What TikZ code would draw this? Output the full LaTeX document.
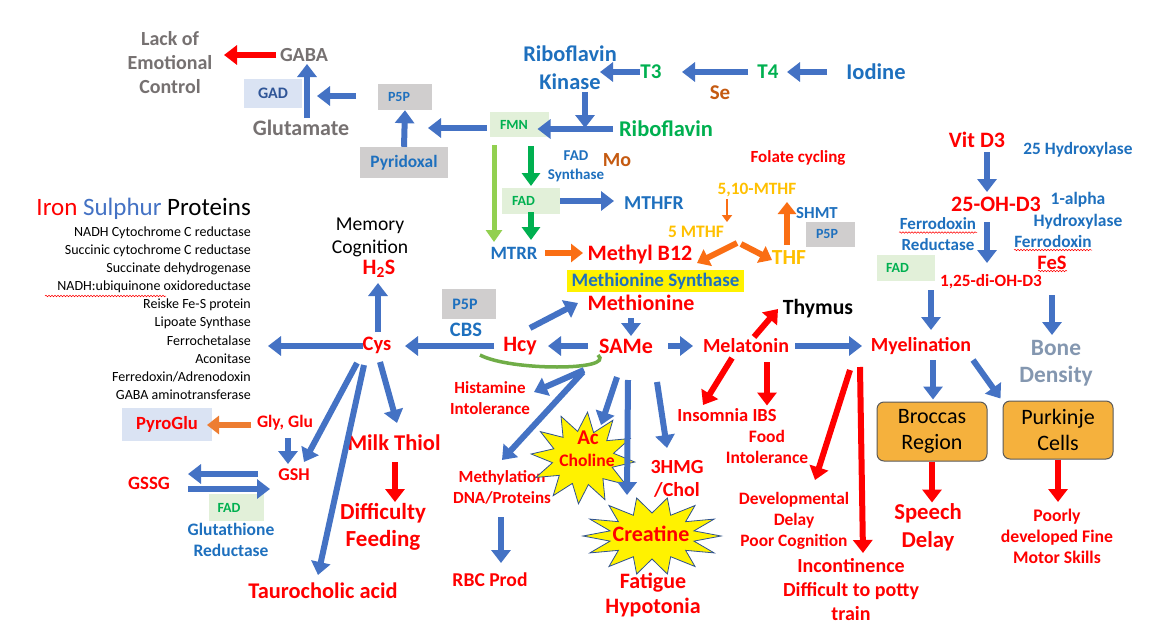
\documentclass[tikz,border=0pt]{standalone}
\usepackage{fontspec}
\setmainfont{Carlito}
\usetikzlibrary{arrows.meta,calc,decorations.pathmorphing}
\newcommand{\fz}[2]{\fontsize{#1}{#2}\selectfont}
\definecolor{ablue}{HTML}{4472C4}
\definecolor{tblue}{RGB}{30,112,190}
\definecolor{dblue}{HTML}{2F5597}
\definecolor{gtxt}{HTML}{00B050}
\definecolor{lgreen}{HTML}{92D050}
\definecolor{arcgreen}{HTML}{70AD47}
\definecolor{bgreen}{HTML}{E2F0D9}
\definecolor{bgray}{HTML}{D0CECE}
\definecolor{bblue}{HTML}{DAE3F3}
\definecolor{brown}{HTML}{C55A11}
\definecolor{gold}{HTML}{FFC000}
\definecolor{forange}{RGB}{250,110,20}
\definecolor{porange}{HTML}{ED7D31}
\definecolor{graytxt}{HTML}{767171}
\definecolor{bonegray}{HTML}{8497B0}
\definecolor{obox}{RGB}{245,177,61}
\definecolor{starline}{HTML}{2F528F}
\definecolor{rtxt}{HTML}{FF0000}
\tikzset{
  tb/.style 2 args={inner sep=0pt,align=center,font=\fz{#1}{#2}\bfseries},
  tr/.style 2 args={inner sep=0pt,align=center,font=\fz{#1}{#2}},
  bx/.style={inner sep=0pt,align=center},
  ba/.style={draw=ablue,line width=6pt,-{Triangle[length=13pt,width=19pt]}},
  ra/.style={draw=red,line width=6pt,-{Triangle[length=13pt,width=19pt]}},
  oa/.style={draw=forange,line width=6pt,-{Triangle[length=12pt,width=18pt]}},
  oas/.style={draw=forange,line width=2.5pt,-{Triangle[length=7pt,width=10pt]}},
  pa/.style={draw=porange,line width=6pt,-{Triangle[length=12pt,width=18pt]}},
  ga/.style={draw=gtxt,line width=5.5pt,-{Triangle[length=13pt,width=18pt]}},
  lga/.style={draw=lgreen,line width=5pt,-{Triangle[length=12pt,width=16pt]}},
  starst/.style={fill=yellow,draw=starline,line width=0.8pt},
  wavy/.style={draw=red,line width=0.5pt,decorate,decoration={snake,amplitude=0.8pt,segment length=3pt}}
}
\begin{document}
\begin{tikzpicture}[x=1pt,y=-1pt]
\fill[white] (0,0) rectangle (1167,626);
\useasboundingbox (0,0) rectangle (1167,626);

% ---------- top left ----------
\node[tb={20}{24},text=graytxt] (lack) at (170,63) {Lack of\\Emotional\\Control};
\node[tb={20}{22},text=graytxt] (gaba) at (304,55) {GABA};
\node[bx,fill=bblue,minimum width=58pt,minimum height=29pt,font=\fz{16}{18}\bfseries,text=dblue] (gad) at (273,93.5) {GAD};
\node[tb={22}{24},text=graytxt] (glut) at (301,128) {Glutamate};
\node[bx,fill=bgray,minimum width=54pt,minimum height=26pt,font=\fz{14}{16}\bfseries,text=tblue] (p5pA) at (405,97) {P5P\hspace*{12pt}};
\node[bx,fill=bgray,minimum width=88pt,minimum height=31pt,font=\fz{17.4}{19}\bfseries,text=tblue] (pyr) at (404,162.5) {Pyridoxal};

% ---------- top middle ----------
\node[tb={22.4}{28},text=tblue] (rk) at (570,68) {Riboflavin\\Kinase};
\node[tb={21}{24},text=gtxt] (t3) at (651,72) {T3};
\node[tb={21}{24},text=gtxt] (t4) at (768,72) {T4};
\node[tb={21}{24},text=brown] (se) at (720,93) {Se};
\node[tb={22.5}{24},text=tblue] (iodine) at (876,72) {Iodine};
\node[tb={22.5}{24},text=gtxt] (ribo) at (666,129) {Riboflavin};
\coordinate (jn) at (585,128);
\node[bx,fill=bgreen,minimum width=59pt,minimum height=25pt,font=\fz{14}{16}\bfseries,text=gtxt] (fmn) at (519.5,124.5) {FMN\hspace*{11pt}};
\node[tb={15}{19},text=tblue] (fadsyn) at (576,166.5) {FAD\\Synthase};
\node[tb={20}{22},text=brown] (mo) at (617,160) {Mo};
\node[bx,fill=bgreen,minimum width=58pt,minimum height=26pt,font=\fz{14}{16}\bfseries,text=gtxt] (fadA) at (531,201) {FAD\hspace*{15pt}};
\node[tb={19.7}{22},text=tblue] (mthfr) at (654,203) {MTHFR};
\node[tb={17}{20},text=rtxt] (folate) at (798,158) {Folate cycling};
\node[tb={17.3}{20},text=gold] (m510) at (757,190) {5,10-MTHF};
\node[tb={17.5}{20},text=gold] (m5) at (696,232) {5 MTHF};
\node[tb={21.5}{24},text=gold] (thf) at (789,258) {THF};
\node[tb={16.8}{19},text=tblue] (shmt) at (817,213) {SHMT};
\node[bx,fill=bgray,minimum width=49pt,minimum height=25pt,font=\fz{14}{16}\bfseries,text=tblue] (p5pB) at (830.5,234.5) {P5P\hspace*{7pt}};
\coordinate (fcyc) at (737,243);
\node[tb={18.8}{21},text=tblue] (mtrr) at (514,253) {MTRR};
\node[tb={22}{26},text=rtxt] (mb12) at (640,255) {Methyl B12};
\node[bx,fill=yellow,minimum width=177pt,minimum height=22pt,font=\fz{19}{21}\bfseries,text=tblue] (msyn) at (655.5,281) {Methionine Synthase};
\node[tb={22}{26},text=rtxt] (meth) at (641,303) {Methionine};
\node[tb={22}{26},text=rtxt] (same) at (626,346) {SAMe};
\node[tb={22}{26},text=rtxt] (hcy) at (520,346) {Hcy};
\node[tb={20.5}{24},text=rtxt] (cys) at (377,345) {Cys};
\node[tb={20.5}{24},text=tblue] (cbs) at (466,330) {CBS};
\node[bx,fill=bgray,minimum width=54pt,minimum height=30pt,font=\fz{16}{18}\bfseries,text=tblue] (p5pC) at (469,304) {P5P\hspace*{8pt}};
\node[tr={19.6}{23},] (memcog) at (370,237) {Memory\\Cognition};
\node[tb={22}{24},text=rtxt] (h2s) at (379,269) {H\textsubscript{2}S};

% ---------- iron sulphur list ----------
\node[tr={25}{28},anchor=east] (iron) at (251,209) {{\color{red}Iron} {\color{ablue}Sulphur} Proteins};
\node[tr={14}{15},anchor=east] (l1) at (251,233) {NADH Cytochrome C reductase};
\node[tr={14}{15},anchor=east] (l2) at (251,251) {Succinic cytochrome C reductase};
\node[tr={14}{15},anchor=east] (l3) at (251,269) {Succinate dehydrogenase};
\node[tr={14}{15},anchor=east] (l4) at (251,287) {NADH:ubiquinone oxidoreductase};
\node[tr={14}{15},anchor=east] (l5) at (251,305) {Reiske Fe-S protein};
\node[tr={14}{15},anchor=east] (l6) at (251,323) {Lipoate Synthase};
\node[tr={14}{15},anchor=east] (l7) at (251,341) {Ferrochetalase};
\node[tr={14}{15},anchor=east] (l8) at (251,359) {Aconitase};
\node[tr={14}{15},anchor=east] (l9) at (251,377) {Ferredoxin/Adrenodoxin};
\node[tr={14}{15},anchor=east] (l10) at (251,395) {GABA aminotransferase};
\draw[wavy] ($(l4.east)+(-206,9)$) -- ($(l4.east)+(-85,9)$);

% ---------- right side ----------
\node[tb={20}{23},text=rtxt] (melat) at (746,346) {Melatonin};
\node[tb={21.7}{24}] (thymus) at (818,309) {Thymus};
\node[tb={20}{23},text=rtxt] (myel) at (921,346) {Myelination};
\node[tb={18.5}{21},text=rtxt] (insom) at (727,415) {Insomnia IBS};
\node[tb={17.5}{21},text=rtxt] (food) at (767,446.5) {Food\\Intolerance};
\node[tb={17.4}{21},text=rtxt] (devel) at (794,521) {Developmental\\Delay\\Poor Cognition};
\node[tb={20}{24},text=rtxt] (incont) at (851,590) {Incontinence\\Difficult to potty\\train};
\node[bx,fill=obox,draw=black!65,line width=1pt,rounded corners=7pt,minimum width=110pt,minimum height=59pt,font=\fz{22}{26}] (broccas) at (932,431.5) {Broccas\\Region};
\node[bx,fill=obox,draw=black!65,line width=1pt,rounded corners=7pt,minimum width=110pt,minimum height=58pt,font=\fz{22}{26}] (purk) at (1058,430) {Purkinje\\Cells};
\node[tb={22.7}{28},text=rtxt] (speech) at (928,527.5) {Speech\\Delay};
\node[tb={17.7}{21},text=rtxt] (poorly) at (1057,536) {Poorly\\developed Fine\\Motor Skills};
\node[tb={23.4}{27},text=bonegray] (bone) at (1056,363.5) {Bone\\Density};
\node[tb={22}{26},text=rtxt] (vitd3) at (977,140) {Vit D3};
\node[tb={22}{26},text=rtxt] (oh25) at (996,204) {25-OH-D3};
\node[tb={17.3}{20},text=tblue] (hyd25) at (1078,150) {25 Hydroxylase};
\node[tb={17.5}{22},text=tblue] (alpha) at (1078,211) {1-alpha\\Hydroxylase};
\node[tb={17.3}{20},text=tblue] (ferroR) at (1053,241) {Ferrodoxin};
\node[tb={20.5}{22},text=rtxt] (fes) at (1052,263) {FeS};
\node[tb={17}{21},text=tblue] (ferrored) at (938,234.5) {Ferrodoxin\\Reductase};
\node[bx,fill=bgreen,minimum width=58pt,minimum height=26pt,font=\fz{14}{16}\bfseries,text=gtxt] (fadB) at (906,268) {FAD\hspace*{17pt}};
\node[tb={17.2}{20},text=rtxt] (di) at (991,282) {1,25-di-OH-D3};
\draw[wavy] ($(ferrored)+(-39,-2)$) -- ($(ferrored)+(39,-2)$);
\draw[wavy] ($(ferroR)+(-39,9)$) -- ($(ferroR)+(39,9)$);
\draw[wavy] ($(fes)+(-14,8)$) -- ($(fes)+(15,8)$);

% ---------- lower middle ----------
\node[tb={17}{21},text=rtxt] (hist) at (490,398.5) {Histamine\\Intolerance};
\node[tb={17}{21},text=rtxt] (methyl) at (502,487.5) {Methylation\\DNA/Proteins};
\node[tb={19.6}{22},text=rtxt] (rbc) at (490,580) {RBC Prod};
\node[tb={20}{23},text=rtxt] (hmg) at (677,478.5) {3HMG\\/Chol};
\node[tb={22}{25},text=rtxt] (fatigue) at (653,594.5) {Fatigue\\Hypotonia};
\coordinate (acs) at (583,458);
\coordinate (crs) at (652,536);
\draw[starst,shift={(acs)}] plot[samples at={0,...,23},variable=\i] ({(mod(\i,2)==0 ? 52 : 31)*cos(\i*15+5)},{(mod(\i,2)==0 ? 46 : 27)*sin(\i*15+5)}) -- cycle;
\draw[starst,shift={(crs)}] plot[samples at={0,...,27},variable=\i] ({(mod(\i,2)==0 ? 69 : 43)*cos(\i*360/28)},{(mod(\i,2)==0 ? 39 : 23)*sin(\i*360/28)}) -- cycle;

% ---------- lower left ----------
\node[bx,fill=bblue,minimum width=90pt,minimum height=33pt,font=\fz{18.6}{21}\bfseries,text=rtxt] (pyro) at (167,424.5) {PyroGlu};
\node[tb={17.5}{20},text=rtxt] (glyglu) at (285,423) {Gly, Glu};
\node[tb={18}{20},text=rtxt] (gsh) at (294,475) {GSH};
\node[tb={18.8}{21},text=rtxt] (gssg) at (149,483) {GSSG};
\node[bx,fill=bgreen,minimum width=55pt,minimum height=27pt,font=\fz{14}{16}\bfseries,text=gtxt] (fadC) at (236.5,507.5) {FAD\hspace*{15pt}};
\node[tb={17.5}{21},text=tblue] (glutred) at (231,539.5) {Glutathione\\Reductase};
\node[tb={22.5}{25},text=rtxt] (milk) at (394,443) {Milk Thiol};
\node[tb={23}{27},text=rtxt] (diff) at (383,526.5) {Difficulty\\Feeding};
\node[tb={22.4}{24},text=rtxt] (tauro) at (323,591) {Taurocholic acid};

% ---------- connectors ----------
\draw[ra] ($(gaba)+(-28,0)$) -- ($(lack)+(54,-8)$);
\draw[ba] ($(glut)+(6,-10)$) -- ($(gaba)+(3,9)$);
\draw[ba] ($(p5pA)+(-49,-1)$) -- ($(gad)+(44,2.5)$);
\draw[ba] (pyr.north) -- (p5pA.south);
\draw[ba] ($(fmn)+(-32.5,3.5)$) -- ($(p5pA)+(23,31)$);
\draw[ba] ($(t3)+(-11,0)$) -- ($(rk)+(30,4)$);
\draw[ba] ($(t4)+(-20,0)$) -- ($(t3)+(31,0)$);
\draw[ba] ($(iodine)+(-49,0)$) -- ($(t4)+(19,0)$);
\draw[ba] ($(rk)+(15,24)$) -- (jn);
\draw[ba] ($(ribo)+(-53,0)$) -- ($(fmn)+(18,4.5)$);
\draw[lga] ($(fmn)+(-25.5,20.5)$) -- ($(mtrr)+(-20,-11)$);
\draw[ga] ($(fmn)+(11.5,21.5)$) -- ($(fadA)+(0,-15)$);
\draw[ga] ($(fadA)+(0,11)$) -- ($(mtrr)+(17,-13)$);
\draw[ba] ($(fadA)+(29,0)$) -- ($(mthfr)+(-40,-2)$);
\draw[oas] ($(m510)+(-30,9)$) -- ($(m5)+(31,-10)$);
\draw[oa] (fcyc) -- ($(mb12)+(57,8)$);
\draw[oa] ($(fcyc)+(4,1)$) -- ($(thf)+(-17,2)$);
\draw[oa] ($(thf)+(-2,-13)$) -- ($(m510)+(30,12)$);
\draw[oa] ($(mtrr)+(31,0)$) -- ($(mb12)+(-57,-2)$);
\draw[ba] ($(meth)+(-10,15)$) -- ($(same)+(5,-10)$);
\draw[ba] ($(same)+(-38,0)$) -- ($(hcy)+(28,0)$);
\draw[ba] ($(hcy)+(-26,0)$) -- ($(cys)+(28,1)$);
\draw[ba] ($(hcy)+(10,-18)$) -- ($(meth)+(-63,0)$);
\draw[ba] ($(cys)+(1,-13)$) -- ($(h2s)+(-1,14)$);
\draw[ba] ($(cys)+(-14,1)$) -- ($(l7.east)+(17,5)$);
\draw[arcgreen,line width=3.5pt] ($(hcy)+(-40,9)$) .. controls ($(hcy)+(-10,25)$) and ($(same)+(-10,25)$) .. ($(same)+(-28,9)$);
\draw[ba] ($(same)+(42,0)$) -- ($(melat)+(-53,0)$);
\draw[ra] ($(melat)+(8,-9)$) -- ($(thymus)+(-40,0)$);
\draw[ra] ($(melat)+(-14,12)$) -- ($(insom)+(-24,-10)$);
\draw[ra] ($(melat)+(21,16)$) -- ($(food)+(0,-41)$);
\draw[ba] ($(melat)+(49,0)$) -- ($(myel)+(-59,0)$);
\draw[ra] ($(myel)+(-71,24)$) -- ($(devel)+(21,-41)$);
\draw[ra] ($(myel)+(-61,21)$) -- ($(incont)+(12,-37)$);
\draw[ba] ($(myel)+(12,14)$) -- ($(broccas.north)+(1,-2)$);
\draw[ba] ($(myel)+(52,14)$) -- ($(purk.north west)+(-2,-2)$);
\draw[ra] (broccas.south) -- ($(speech)+(4,-25)$);
\draw[ra] (purk.south) -- ($(poorly)+(1,-34)$);
\draw[ba] ($(vitd3)+(10,12)$) -- ($(oh25)+(-9,-12)$);
\draw[ba] ($(oh25)+(-9,18)$) -- ($(di)+(-4,-19)$);
\draw[ba] ($(di)+(-60,8)$) -- ($(myel)+(10,-16)$);
\draw[ba] ($(di)+(61,13)$) -- ($(bone)+(-4,-28.5)$);
\draw[ba] ($(same)+(-42,24)$) -- ($(hist)+(44,-6.5)$);
\draw[ba] ($(same)+(-43,26)$) -- ($(methyl)+(0,-27.5)$);
\draw[ba] ($(same)+(-9,31)$) -- ($(acs)+(18,-33)$);
\draw[ba] ($(same)+(2,34)$) -- ($(crs)+(-25,-41)$);
\draw[ba] ($(same)+(31,36)$) -- ($(hmg)+(-10,-30.5)$);
\draw[ba] ($(methyl)+(-1,29.5)$) -- ($(rbc)+(11,-17)$);
\draw[ba] ($(cys)+(-20,18)$) -- ($(gsh)+(10,-13)$);
\draw[ba] ($(cys)+(-13,20)$) -- ($(tauro)+(-5,-16)$);
\draw[ba] ($(cys)+(3,17)$) -- ($(milk)+(3,-20)$);
\draw[ra] ($(milk)+(1,19)$) -- ($(diff)+(12,-24.5)$);
\draw[pa] ($(glyglu)+(-34,2)$) -- ($(pyro)+(40,0.5)$);
\draw[ba] ($(glyglu)+(3,15)$) -- ($(gsh)+(-6,-11)$);
\draw[ba] ($(gsh)+(-36,-1)$) -- ($(gssg)+(39,-9)$);
\draw[ba] ($(gssg)+(39,6)$) -- ($(gsh)+(-24,14)$);

% ---------- star texts ----------
\node[tb={21}{22},text=rtxt] (ac) at (588,438) {Ac};
\node[tb={17.6}{19},text=rtxt] (chol) at (587,460) {Choline};
\node[tb={22}{24},text=rtxt] (creat) at (651,534) {Creatine};
\end{tikzpicture}
\end{document}
